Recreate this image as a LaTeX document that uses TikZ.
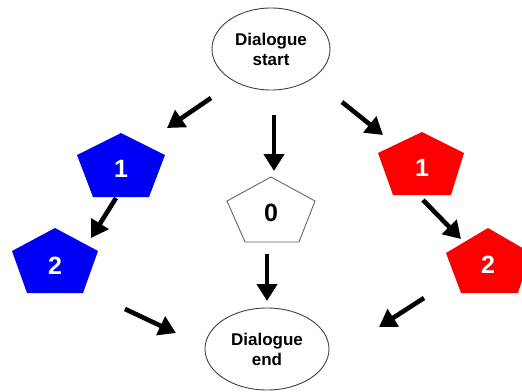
\documentclass[tikz,border=0pt]{standalone}
\usepackage{fontspec}
\setmainfont{Liberation Sans}
\usetikzlibrary{shapes.geometric,arrows.meta}
\definecolor{pblue}{RGB}{0,0,245}
\definecolor{pred}{RGB}{250,0,0}
\tikzset{
  arr/.style={line width=4.6pt, -{Triangle[length=17pt,width=20pt]}},
  oval/.style={ellipse, draw=black!75, line width=0.9pt, minimum width=118pt, minimum height=82pt, align=center, inner sep=0pt, font=\bfseries\fontsize{17}{20}\selectfont},
  digit/.style={font=\bfseries\fontsize{25}{25}\selectfont, inner sep=0pt},
  bluepent/.style={fill=pblue},
  redpent/.style={fill=pred},
  whitepent/.style={draw=black!60, line width=0.9pt, fill=white},
}
\newcommand\pentagonat[5]{%
  \path[#4] (#2,#3) ++(0,-35) -- ++(-44,22) -- ++(15,42) -- ++(58,0) -- ++(15,-42) -- cycle;
  \node[digit,#5] (#1) at (#2,#3) {\vphantom{0}};
}
\begin{document}
\begin{tikzpicture}[x=1pt,y=-1pt]
\useasboundingbox (0,0) rectangle (522,391);
\clip (0,0) rectangle (522,391);
\fill[white] (0,0) rectangle (522,391);
% ovals
\node[oval] (start) at (271,49) {Dialogue\\start};
\node[oval, minimum width=124pt] (end) at (267,349) {Dialogue\\end};
% pentagons
\path[bluepent] (121,168) ++(0,-35) -- ++(-44,22) -- ++(16,42) -- ++(56,0) -- ++(16,-42) -- cycle;
\node[digit, white] (b1) at (121,169) {1};
\path[bluepent] (55,263) ++(0,-35) -- ++(-43,23) -- ++(15,42) -- ++(56,0) -- ++(15,-42) -- cycle;
\node[digit, white] (b2) at (55,266) {2};
\path[whitepent] (271,212) ++(0,-35) -- ++(-44,24) -- ++(18,41) -- ++(54,0) -- ++(16,-41) -- cycle;
\node[digit, black] (w0) at (271,213) {0};
\path[redpent] (422,167) ++(0,-35) -- ++(-44,21) -- ++(15,42) -- ++(58,0) -- ++(13,-42) -- cycle;
\node[digit, white] (r1) at (422,168) {1};
\path[redpent] (488,263) ++(0,-35) -- ++(-42,25) -- ++(15,40) -- ++(57,0) -- ++(13,-40) -- cycle;
\node[digit, white] (r2) at (488,265) {2};
% arrows
\coordinate (a1s) at (211,98);  \coordinate (a1e) at (167,128);
\coordinate (a2s) at (274,115); \coordinate (a2e) at (274,171);
\coordinate (a3s) at (342,102); \coordinate (a3e) at (383,135);
\coordinate (a4s) at (116,198); \coordinate (a4e) at (91,238);
\coordinate (a5s) at (125,309); \coordinate (a5e) at (176,333);
\coordinate (a6s) at (424,298); \coordinate (a6e) at (379,327);
\coordinate (a7s) at (267,254); \coordinate (a7e) at (267,301);
\coordinate (a8s) at (423,200); \coordinate (a8e) at (461,239);
\draw[arr] (a1s) -- (a1e);
\draw[arr] (a2s) -- (a2e);
\draw[arr] (a3s) -- (a3e);
\draw[arr] (a4s) -- (a4e);
\draw[arr] (a5s) -- (a5e);
\draw[arr] (a6s) -- (a6e);
\draw[arr] (a7s) -- (a7e);
\draw[arr] (a8s) -- (a8e);
\end{tikzpicture}
\end{document}
